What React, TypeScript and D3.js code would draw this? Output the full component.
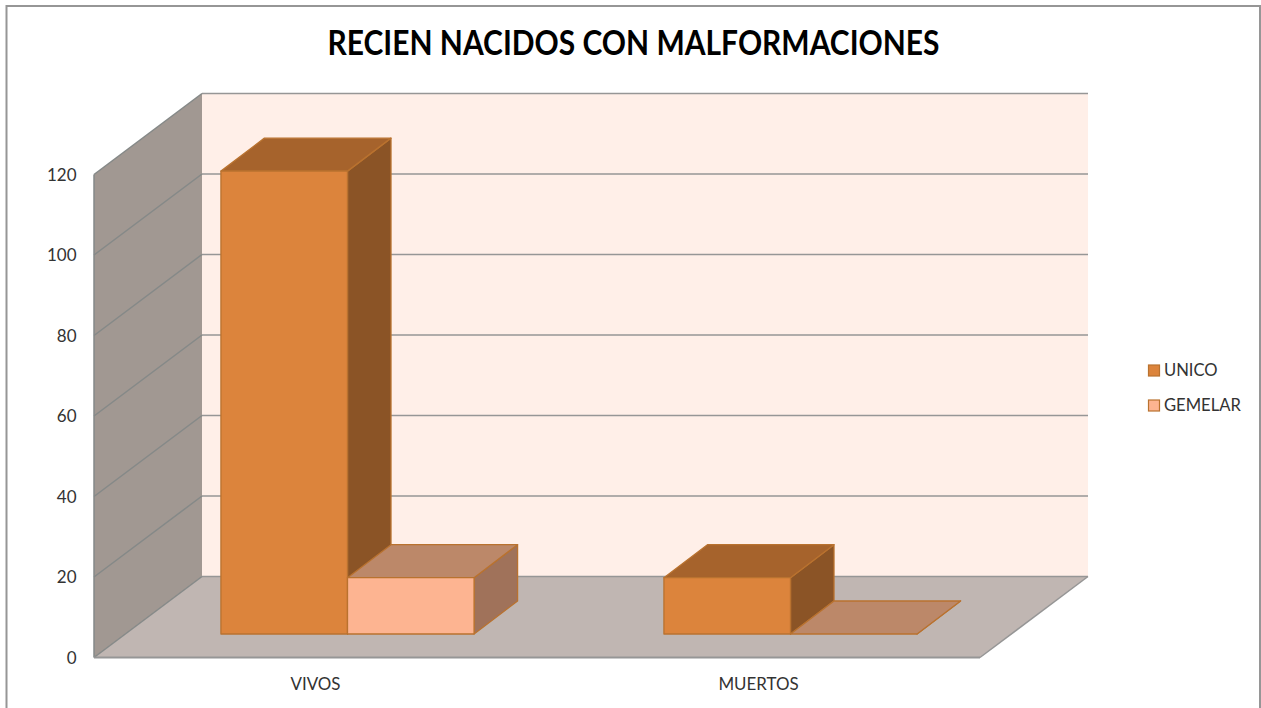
import React from "react";
import * as d3 from "d3";

const TITLE = "RECIEN NACIDOS CON MALFORMACIONES";
const categories = ["VIVOS", "MUERTOS"];
const seriesNames = ["UNICO", "GEMELAR"];
const unicoValues = [115, 14];
const gemelarValues = [14, 0];
const yTicks = [0, 20, 40, 60, 80, 100, 120];

const FONT = "Lato, 'Open Sans', sans-serif";
const front = { x0: 94, x1: 980, y0: 657.5, y1: 174.5 };
const wallDepth = { dx: 108, dy: -81 };
const barInset = { dx: 32, dy: -23.5 };
const barDepth = { dx: 43.5, dy: -33 };

const palette = [
  { front: "#DC843C", top: "#A6632C", side: "#8B5426" },
  { front: "#FDB491", top: "#BC8869", side: "#A0725A" },
];
const barStroke = "#B9722F";
const wallColor = "#A19892";
const floorColor = "#C0B6B2";
const backColor = "#FFEFE8";
const gridColor = "#969696";
const diagonalColor = "#858988";
const textColor = "#333333";

const pts = (p: number[][]) => p.map((q) => q.join(",")).join(" ");

export default function App() {
  const y = d3.scaleLinear().domain([0, 120]).range([front.y0, front.y1]);
  const x = d3.scaleBand<string>().domain(categories).range([front.x0, front.x1]);
  const inner = d3
    .scaleBand<string>()
    .domain(seriesNames)
    .range([0, x.bandwidth()])
    .paddingInner(0)
    .paddingOuter(0.75);
  const seriesValues = [unicoValues, gemelarValues];
  const w = wallDepth;
  const bx = front.x0 + w.dx;
  const bx1 = front.x1 + w.dx;

  const bars = categories.flatMap((c, ci) =>
    seriesNames.map((s, si) => ({ c, s, si, value: seriesValues[si][ci] }))
  );

  return (
    <svg
      width={1261}
      height={708}
      style={{ position: "absolute", left: 0, top: 0, background: "#fff" }}
      fontFamily={FONT}
    >
      <path d="M6.5,720 V6 H1260 V720" fill="#fff" stroke="#969696" strokeWidth={2} />
      <text x={633.5} y={55} textAnchor="middle" fontSize={34} fontWeight={700} fill="#000" textLength={612} lengthAdjust="spacingAndGlyphs">
        {TITLE}
      </text>

      {/* back wall */}
      <rect x={bx} y={y(120) + w.dy} width={front.x1 - front.x0} height={y(0) - y(120)} fill={backColor} />
      {/* side wall */}
      <polygon
        points={pts([
          [front.x0, y(0)],
          [front.x0, y(120)],
          [bx, y(120) + w.dy],
          [bx, y(0) + w.dy],
        ])}
        fill={wallColor}
      />
      {/* floor */}
      <polygon
        points={pts([
          [front.x0, y(0)],
          [front.x1, y(0)],
          [bx1, y(0) + w.dy],
          [bx, y(0) + w.dy],
        ])}
        fill={floorColor}
      />

      {/* grid */}
      {yTicks.map((t) => (
        <g key={t} fill="none" strokeWidth={1.5}>
          <line x1={bx} x2={bx1} y1={y(t) + w.dy} y2={y(t) + w.dy} stroke={gridColor} />
          <line x1={front.x0} x2={bx} y1={y(t)} y2={y(t) + w.dy} stroke={diagonalColor} />
        </g>
      ))}
      <line x1={front.x0} x2={front.x0} y1={y(120)} y2={y(0)} stroke={diagonalColor} strokeWidth={1.5} />
      <line x1={front.x0} x2={front.x1} y1={y(0)} y2={y(0)} stroke={gridColor} strokeWidth={2} />
      <line x1={front.x1} x2={bx1} y1={y(0)} y2={y(0) + w.dy} stroke={gridColor} strokeWidth={1.5} />

      {/* y labels */}
      {yTicks.map((t) => (
        <text key={t} x={76.5} y={y(t) + 6} textAnchor="end" fontSize={17} fill={textColor}>
          {t}
        </text>
      ))}
      {/* x labels */}
      {categories.map((c) => (
        <text key={c} x={(x(c) as number) + x.bandwidth() / 2} y={689.5} textAnchor="middle" fontSize={16.9} fill={textColor}>
          {c}
        </text>
      ))}

      {/* bars */}
      {bars.map(({ c, s, si, value }) => {
        const x0 = (x(c) as number) + (inner(s) as number) + barInset.dx;
        const x1 = x0 + inner.bandwidth();
        const yb = y(0) + barInset.dy;
        const yt = yb - (y(0) - y(value));
        const d = barDepth;
        const col = palette[si];
        return (
          <g key={c + s} stroke={barStroke} strokeWidth={1.3} strokeLinejoin="round">
            <polygon
              points={pts([
                [x1, yb],
                [x1 + d.dx, yb + d.dy],
                [x1 + d.dx, yt + d.dy],
                [x1, yt],
              ])}
              fill={col.side}
            />
            <polygon
              points={pts([
                [x0, yt],
                [x1, yt],
                [x1 + d.dx, yt + d.dy],
                [x0 + d.dx, yt + d.dy],
              ])}
              fill={col.top}
            />
            {value > 0 && <rect x={x0} y={yt} width={x1 - x0} height={yb - yt} fill={col.front} />}
          </g>
        );
      })}

      {/* legend */}
      {seriesNames.map((s, i) => (
        <g key={s}>
          <rect x={1148.5} y={365 + i * 35} width={11} height={11} fill={palette[i].front} stroke={barStroke} strokeWidth={1.2} />
          <text x={1164} y={376 + i * 35} fontSize={16.6} fill={textColor}>
            {s}
          </text>
        </g>
      ))}
    </svg>
  );
}
